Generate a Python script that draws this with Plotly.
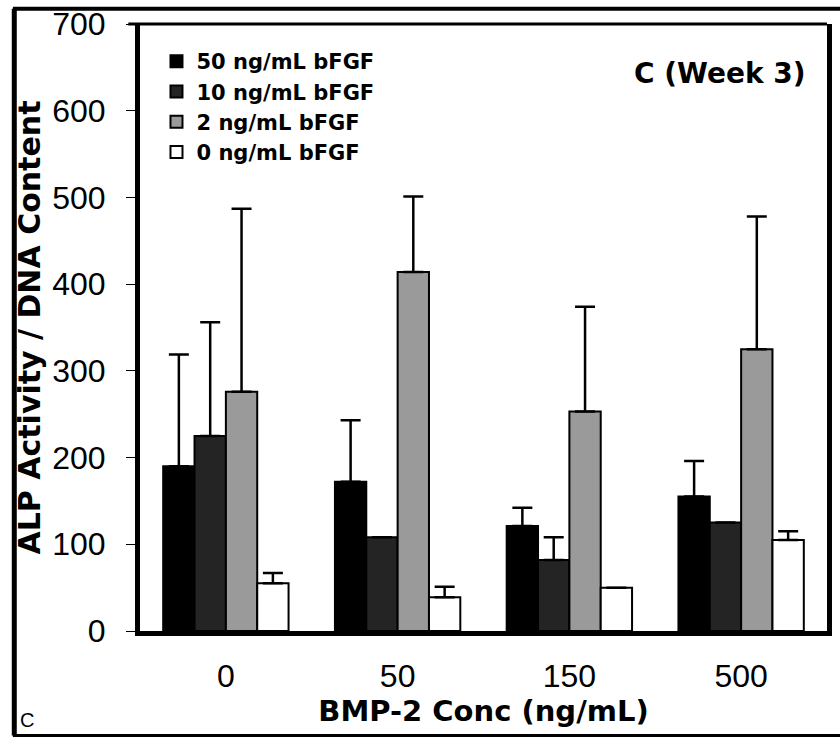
import plotly.graph_objects as go

categories = ["0", "50", "150", "500"]
series_names = ["50 ng/mL bFGF", "10 ng/mL bFGF", "2 ng/mL bFGF", "0 ng/mL bFGF"]
bfgf50 = [190, 172, 121, 155]
bfgf50_err = [129, 71, 21, 41]
bfgf10 = [225, 108, 82, 125]
bfgf10_err = [131, 0, 26, 0]
bfgf2 = [276, 414, 253, 325]
bfgf2_err = [211, 87, 121, 153]
bfgf0 = [55, 39, 50, 105]
bfgf0_err = [12, 12, 0, 10]
y_ticks = [0, 100, 200, 300, 400, 500, 600, 700]

values = [bfgf50, bfgf10, bfgf2, bfgf0]
errors = [bfgf50_err, bfgf10_err, bfgf2_err, bfgf0_err]
fills = ["#000000", "#242424", "#9a9a9a", "#ffffff"]

fig = go.Figure()
for name, v, e, c in zip(series_names, values, errors, fills):
    fig.add_trace(go.Bar(
        x=categories, y=v, name=name,
        marker=dict(color=c, line=dict(color="black", width=2)),
        error_y=dict(type="data", array=e, arrayminus=[0] * len(e), symmetric=False,
                     color="black", thickness=2.5, width=10),
    ))

BOLD = "DejaVu Sans"
fig.update_layout(
    width=840, height=738,
    margin=dict(l=140, r=13, t=24, b=107),
    paper_bgcolor="white", plot_bgcolor="white",
    barmode="group", bargap=0.27, bargroupgap=0,
    showlegend=True,
    legend=dict(x=0.024, y=0.972, xanchor="left", yanchor="top",
                bgcolor="rgba(0,0,0,0)", borderwidth=0,
                font=dict(family=BOLD, size=21, color="black", weight="bold"),
                itemwidth=30, tracegroupgap=0),
    xaxis=dict(
        automargin=False,
        showline=True, linecolor="black", linewidth=5, mirror=False,
        ticks="", showgrid=False, zeroline=False,
        tickfont=dict(family="Liberation Sans", size=32, color="black"),
        ticklabelstandoff=13,
        title=dict(text="BMP-2 Conc (ng/mL)",
                   font=dict(family=BOLD, size=29, color="black", weight="bold"),
                   standoff=3),
    ),
    yaxis=dict(
        automargin=False,
        range=[0, 700], tickvals=y_ticks,
        showline=True, linecolor="black", linewidth=5, mirror=True,
        ticks="outside", ticklen=9, tickwidth=1, tickcolor="black",
        showgrid=False, zeroline=False,
        tickfont=dict(family="Liberation Sans", size=32, color="black"),
        ticklabelstandoff=14,
        title=dict(text="ALP Activity / DNA Content",
                   font=dict(family=BOLD, size=30, color="black", weight="bold"),
                   standoff=4),
    ),
    annotations=[
        dict(text="C (Week 3)", xref="paper", yref="paper", x=0.972, y=0.919,
             xanchor="right", yanchor="middle", showarrow=False,
             font=dict(family=BOLD, size=28, color="black", weight="bold")),
        dict(text="C", xref="paper", yref="paper", x=-0.178, y=-0.168,
             xanchor="left", yanchor="bottom", showarrow=False,
             font=dict(family="Liberation Sans", size=20, color="black")),
    ],
    shapes=[
        # top edge of plot frame (thin)
        dict(type="line", xref="paper", yref="paper", x0=-0.017, x1=1.0, y0=1.0, y1=1.0,
             line=dict(color="black", width=3)),
        # outer figure frame: top, left, bottom
        dict(type="line", xref="paper", yref="paper", x0=-0.185, x1=1.03, y0=1.025, y1=1.025,
             line=dict(color="black", width=4)),
        dict(type="line", xref="paper", yref="paper", x0=-0.183, x1=-0.183, y0=1.025, y1=-0.172,
             line=dict(color="black", width=5)),
        dict(type="line", xref="paper", yref="paper", x0=-0.185, x1=1.03, y0=-0.172, y1=-0.172,
             line=dict(color="black", width=3)),
    ],
)

fig.write_html("out.html", config={"displayModeBar": False},
               post_script="document.body.style.margin='0';document.body.style.overflow='hidden';")
